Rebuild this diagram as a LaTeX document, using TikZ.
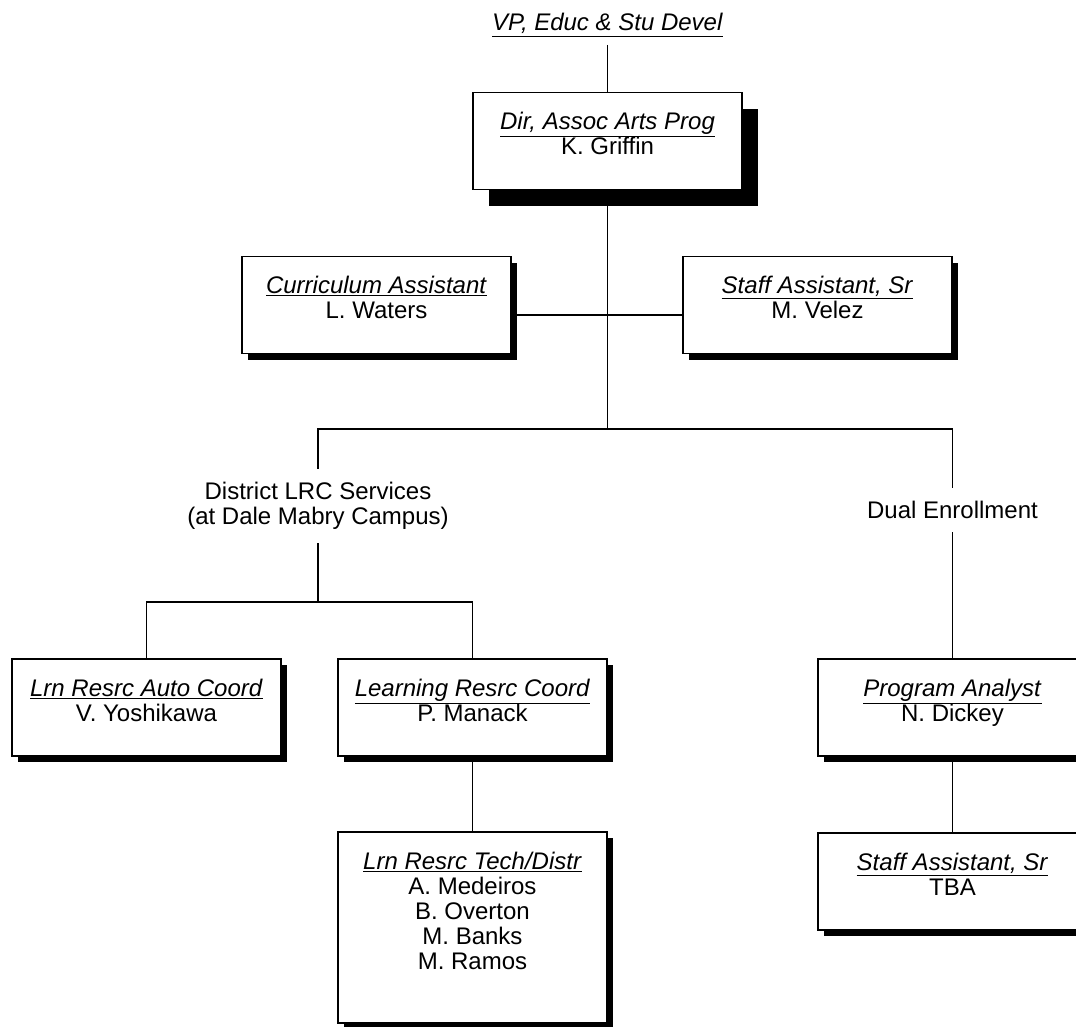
\documentclass[tikz,border=0pt]{standalone}
\usepackage{fontspec}
\setmainfont{Liberation Sans}
\usetikzlibrary{positioning, shadows}
\newcommand{\orgfont}{\fontsize{18}{18.8}\selectfont}
\newcommand{\roletitle}[1]{\underline{\textit{#1}}}
\tikzset{
    post/.style={
        rectangle,
        draw=black,
        line width=0.9pt,
        fill=white,
        minimum width=201.75pt,
        minimum height=72.75pt,
        drop shadow={shadow xshift=#1, shadow yshift=-#1, opacity=1, fill=black}
    },
    post/.default=4.5pt,
    holder/.style={
        align=center,
        inner sep=0pt,
        font=\orgfont
    },
    branch/.style={
        align=center,
        inner sep=10pt,
        font=\orgfont
    },
    link/.style={
        line width=0.9pt
    }
}

\begin{document}
\begin{tikzpicture}[x=0.75pt, y=-0.75pt]
    \clip (0,0) rectangle (1076,1026);

    \node[branch, inner sep=6pt] (vp) at (607.5,25) {\roletitle{VP, Educ \& Stu Devel}};
    \node[post=12pt] (dir) at (607.5,141) {};
    \node[holder, below=15pt of dir.north] (dirtext) {\roletitle{Dir, Assoc Arts Prog}\\K. Griffin};

    \node[post] (curr)  at (376.5,305) {};
    \node[holder, below=15pt of curr.north]  (currtext)  {\roletitle{Curriculum Assistant}\\L. Waters};
    \node[post] (staff) at (817.5,305) {};
    \node[holder, below=15pt of staff.north] (stafftext) {\roletitle{Staff Assistant, Sr}\\M. Velez};

    \coordinate (hub) at (607.5,429);
    \node[branch] (district) at (318,506) {District LRC Services\\(at Dale Mabry Campus)};
    \node[branch] (dual)     at (952.5,510) {Dual Enrollment};
    \coordinate (lrcfork) at (318,602);

    \node[post] (auto)    at (146.5,707.5) {};
    \node[holder, below=15pt of auto.north]    (autotext)    {\roletitle{Lrn Resrc Auto Coord}\\V. Yoshikawa};
    \node[post] (lrc)     at (472.5,707.5) {};
    \node[holder, below=15pt of lrc.north]     (lrctext)     {\roletitle{Learning Resrc Coord}\\P. Manack};
    \node[post] (analyst) at (952.5,707.5) {};
    \node[holder, below=15pt of analyst.north] (analysttext) {\roletitle{Program Analyst}\\N. Dickey};

    \node[post, minimum height=143.25pt] (tech) at (472.5,927.5) {};
    \node[holder, below=15pt of tech.north] (techtext) {\roletitle{Lrn Resrc Tech/Distr}\\A. Medeiros\\B. Overton\\M. Banks\\M. Ramos};
    \node[post] (tba) at (952.5,881.5) {};
    \node[holder, below=15pt of tba.north]  (tbatext)  {\roletitle{Staff Assistant, Sr}\\TBA};

    \draw[link] (vp) -- (dir);
    \draw[link] (dir) -- (hub);
    \draw[link] ([yshift=-7.5pt]curr.east) -- ([yshift=-7.5pt]staff.west);
    \draw[link] (district.north) |- (hub) -| (dual.north);
    \draw[link] (district.south) -- (lrcfork);
    \draw[link] (auto.north) |- (lrcfork) -| (lrc.north);
    \draw[link] (dual.south) -- (analyst.north);
    \draw[link] (lrc) -- (tech);
    \draw[link] (analyst) -- (tba);
\end{tikzpicture}
\end{document}
